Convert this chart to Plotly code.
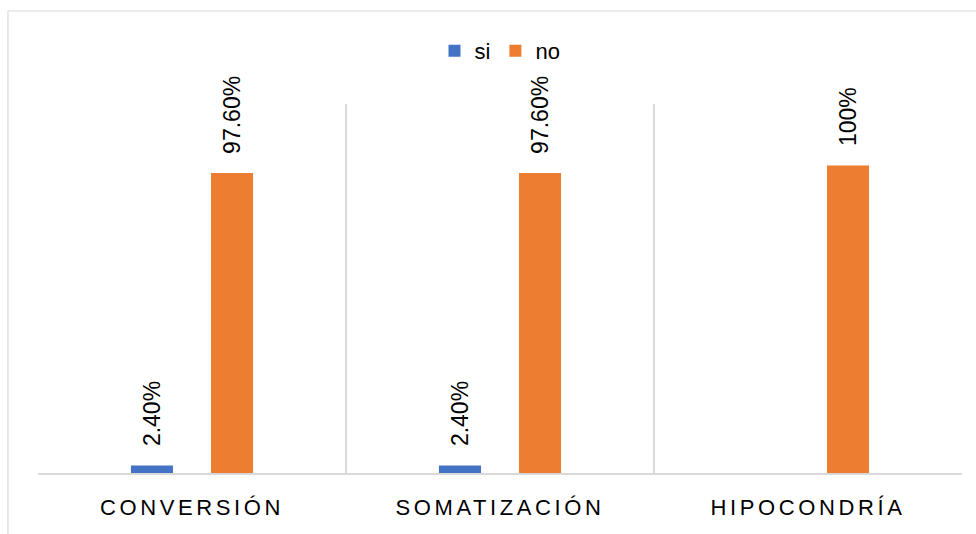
import plotly.graph_objects as go

categories = ["CONVERSIÓN", "SOMATIZACIÓN", "HIPOCONDRÍA"]
si_values = [0.024, 0.024, 0.0]
no_values = [0.976, 0.976, 1.0]
si_labels = ["2.40%", "2.40%", ""]
no_labels = ["97.60%", "97.60%", "100%"]

FONT = "Liberation Sans Narrow, Arial Narrow, Liberation Sans, Arial, sans-serif"
BLUE = "#4472C4"
ORANGE = "#ED7D31"
GRID = "#D9D9D9"

fig = go.Figure()
fig.add_trace(go.Bar(name="si", x=categories, y=si_values, marker_color=BLUE, marker_line_width=0))
fig.add_trace(go.Bar(name="no", x=categories, y=no_values, marker_color=ORANGE, marker_line_width=0))

# data labels, rotated, above each bar
annotations = []
for i, cat in enumerate(categories):
    for vals, labs, shift in ((si_values, si_labels, -40), (no_values, no_labels, 40)):
        if labs[i]:
            annotations.append(dict(
                x=cat, y=vals[i], xref="x", yref="y", text=labs[i],
                textangle=-90, showarrow=False, xshift=shift, yshift=17,
                yanchor="bottom", xanchor="center",
                font=dict(family=FONT, size=23, color="#000000"),
            ))

ticktext = ['<span style="letter-spacing:3.6px">%s</span>' % c for c in categories]

fig.update_layout(
    width=976, height=534,
    margin=dict(l=38, r=14, t=104, b=61),
    paper_bgcolor="white", plot_bgcolor="white",
    barmode="group", bargap=0.48, bargroupgap=0.475,
    font=dict(family=FONT, color="#000000"),
    legend=dict(orientation="h", x=0.5, xanchor="center", y=1.1436, yanchor="middle",
                font=dict(family=FONT, size=22, color="#000000"),
                itemwidth=30, tracegroupgap=0, bgcolor="rgba(0,0,0,0)"),
    annotations=annotations,
    shapes=[dict(type="rect", xref="paper", yref="paper",
                 x0=-0.0325, x1=1.2, y0=-0.6, y1=1.252,
                 line=dict(color=GRID, width=1.2), fillcolor="rgba(0,0,0,0)", layer="below")],
)
fig.update_xaxes(
    tickmode="array", tickvals=categories, ticktext=ticktext,
    tickson="boundaries", showgrid=True, gridcolor=GRID, gridwidth=1.5,
    showline=True, linecolor=GRID, linewidth=1.5, ticks="",
    tickfont=dict(family=FONT, size=22, color="#000000"),
    ticklabelstandoff=14,
)
fig.update_yaxes(range=[0, 1.2], showgrid=False, showticklabels=False,
                 zeroline=False, showline=False)

fig.write_html("out.html")
